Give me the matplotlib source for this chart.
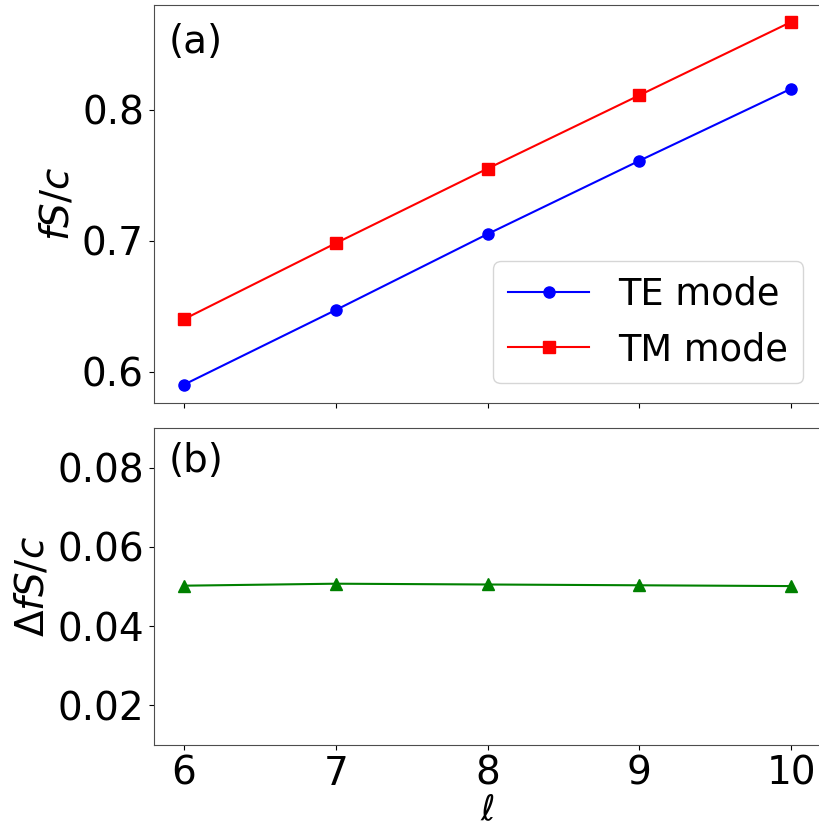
import matplotlib
matplotlib.use("Agg")
import matplotlib.pyplot as plt

# mode index
ell = [6, 7, 8, 9, 10]

# normalized frequencies
te_freq = [0.590, 0.647, 0.705, 0.761, 0.816]
tm_freq = [0.640, 0.698, 0.755, 0.811, 0.867]
delta_freq = [0.0502, 0.0507, 0.0505, 0.0503, 0.0501]

plt.rcParams['font.size'] = 28

fig = plt.figure(figsize=(8.19, 8.30), dpi=100)
# right spine falls just outside the canvas, as in the original
ax1 = fig.add_axes([0.1876, 0.5145, 0.8153, 0.4795])
ax2 = fig.add_axes([0.1876, 0.1024, 0.8153, 0.3820], sharex=ax1)

ax1.plot(ell, te_freq, 'b-o', lw=1.5, ms=8, label='TE mode')
ax1.plot(ell, tm_freq, 'r-s', lw=1.5, ms=8, label='TM mode')
ax1.set_ylim(0.576, 0.880)
ax1.set_yticks([0.6, 0.7, 0.8])
ax1.set_ylabel(r'$fS/c$')
ax1.tick_params(labelbottom=False)
ax1.legend(loc='lower right', fontsize=26.5, handlelength=2.2,
           borderaxespad=0, bbox_to_anchor=(0.973, 0.05))
ax1.text(0.023, 0.955, '(a)', transform=ax1.transAxes, va='top', ha='left')

ax2.plot(ell, delta_freq, 'g-^', lw=1.5, ms=8)
ax2.set_ylim(0.010, 0.090)
ax2.set_yticks([0.02, 0.04, 0.06, 0.08])
ax2.set_xlim(5.8, 10.2)
ax2.set_xticks(ell)
ax2.set_xlabel(r'$\ell$', fontsize=25, labelpad=0)
ax2.set_ylabel(r'$\Delta fS/c$')
ax2.text(0.023, 0.955, '(b)', transform=ax2.transAxes, va='top', ha='left')

for ax in (ax1, ax2):
    for s in ax.spines.values():
        s.set_color('0.3')

fig.savefig('out.png', dpi=100)
